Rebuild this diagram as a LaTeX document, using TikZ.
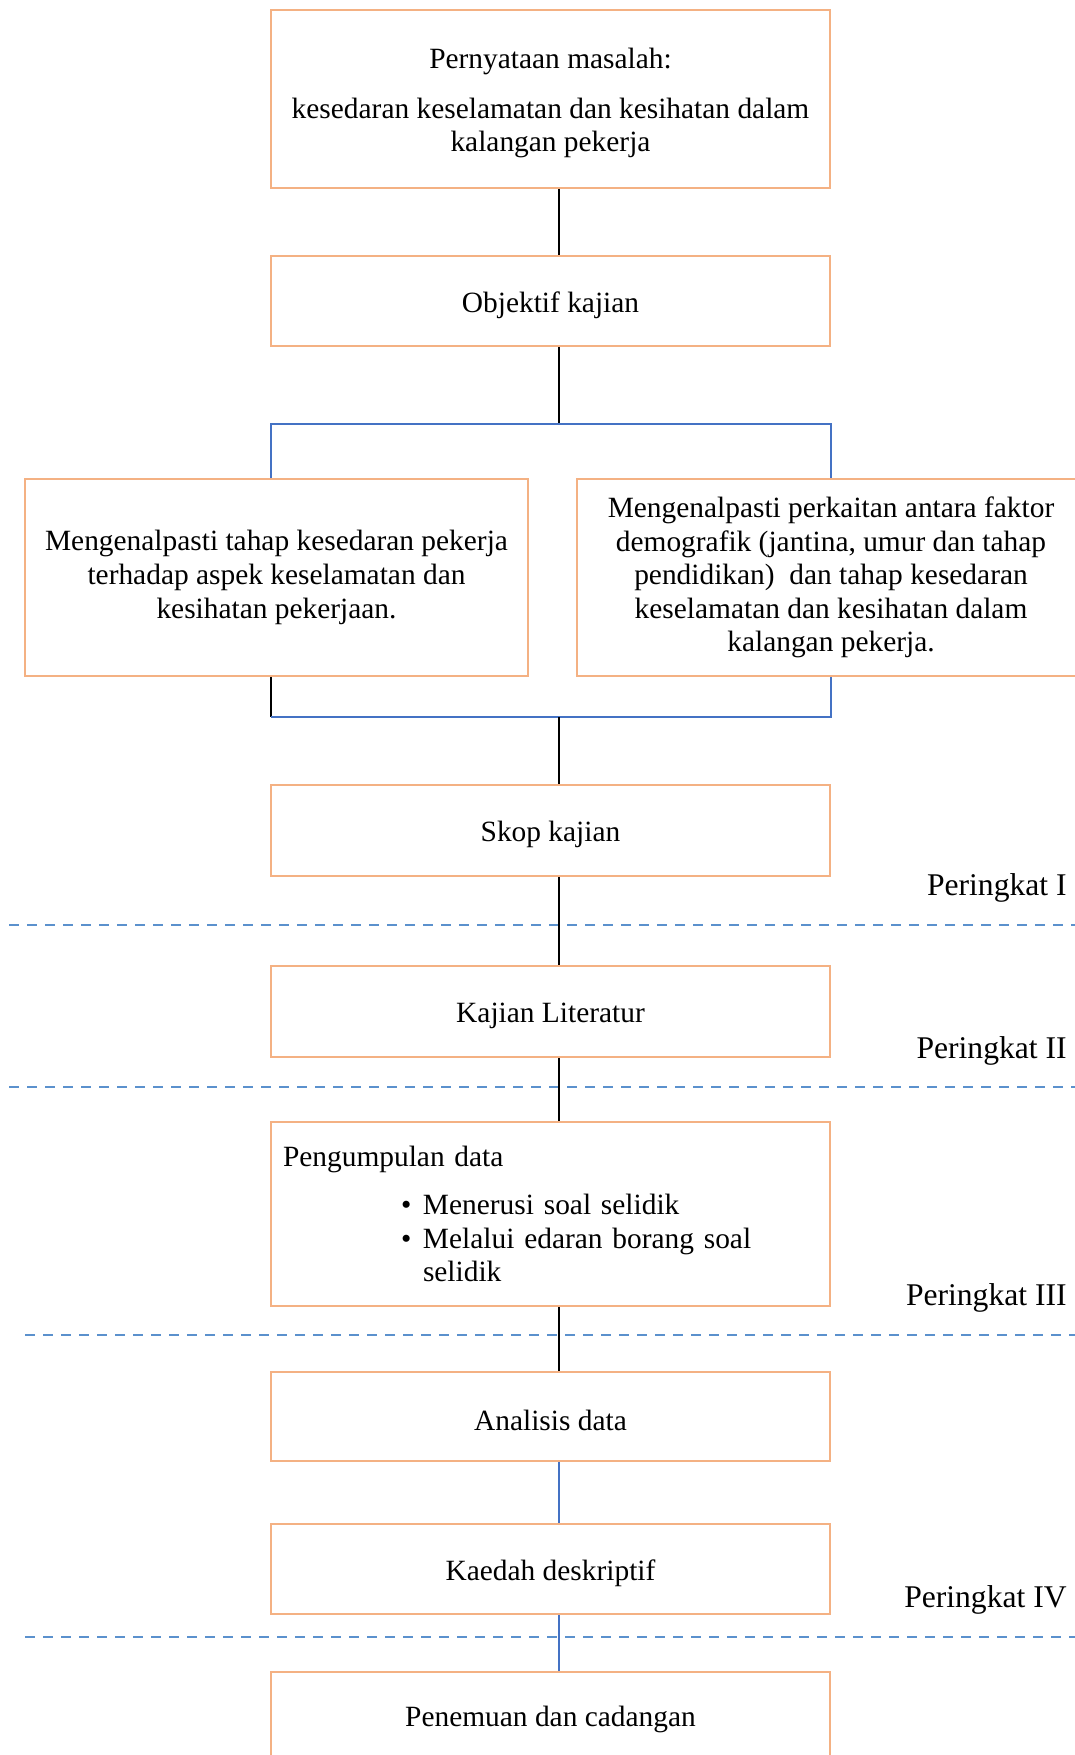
\documentclass[tikz,border=0pt]{standalone}
\usepackage{fontspec}
\setmainfont{Liberation Serif}
\usepackage{tikz}
\usetikzlibrary{positioning}
\usetikzlibrary{calc}
\definecolor{jingga}{RGB}{244,177,131}
\definecolor{biru}{RGB}{68,114,196}
\definecolor{birumuda}{RGB}{91,145,205}
\tikzstyle{kotak}=[draw=jingga,line width=0.75pt,rectangle,minimum width=279.5pt,align=center,inner sep=6pt]
\tikzstyle{teks}=[font=\fontsize{14.7}{16.8}\selectfont,inner sep=0pt]
\tikzstyle{sambung}=[line width=0.9pt]
\tikzstyle{garisputus}=[draw=birumuda,line width=1.1pt,dash pattern=on 5pt off 4pt]
\tikzstyle{aras}=[anchor=east,font=\fontsize{15.8}{18}\selectfont,inner sep=0pt]

\begin{document}
\begin{tikzpicture}[x=0.5pt,y=-0.5pt,font=\fontsize{14.7}{16.8}\selectfont]
\useasboundingbox (0,0) rectangle (1075,1755);

% kotak utama
\node [kotak,minimum height=89pt] (masalah) at (550.5,99) {};
\node [teks,align=center] at ([yshift=-2pt]masalah.center)
  {Pernyataan masalah:\\[8pt]kesedaran keselamatan dan kesihatan dalam\\kalangan pekerja};
\node [kotak,minimum height=45pt] (objektif) at (550.5,301) {};
\node [teks] at ([yshift=-2pt]objektif.center) {Objektif kajian};
\node [kotak,minimum width=251.5pt,minimum height=98.5pt] (kiri) at (276.5,577.5)
  {Mengenalpasti tahap kesedaran pekerja\\terhadap aspek keselamatan dan\\kesihatan pekerjaan.};
\node [kotak,minimum width=254pt,minimum height=98.5pt] (kanan) at (831,577.5)
  {Mengenalpasti perkaitan antara faktor\\demografik (jantina, umur dan tahap\\pendidikan)\ \ dan tahap kesedaran\\keselamatan dan kesihatan dalam\\kalangan pekerja.};
\node [kotak,minimum height=45.5pt] (skop) at (550.5,830.5) {};
\node [teks] at ([yshift=-2pt]skop.center) {Skop kajian};
\node [kotak,minimum height=45.5pt] (literatur) at (550.5,1011.5) {};
\node [teks] at ([yshift=-2pt]literatur.center) {Kajian Literatur};
\node [kotak,minimum height=92pt,align=left,text width=267.5pt] (data) at (550.5,1214)
  {Pengumpulan data\\[7.5pt]
   \hspace*{59pt}\makebox[11pt][l]{\textbullet}Menerusi soal selidik\\
   \hspace*{59pt}\makebox[11pt][l]{\textbullet}Melalui edaran borang soal\\
   \hspace*{70pt}selidik};
\node [kotak,minimum height=44.5pt] (analisis) at (550.5,1416.5) {};
\node [teks] at ([yshift=-2pt]analisis.center) {Analisis data};
\node [kotak,minimum height=45pt] (kaedah) at (550.5,1569) {};
\node [teks] at ([yshift=-2pt]kaedah.center) {Kaedah deskriptif};
\node [kotak,minimum height=47pt] (penemuan) at (550.5,1719) {Penemuan dan cadangan};

% peringkat
\node [aras] (p1) at (1067,888) {Peringkat I};
\node [aras] (p2) at (1067,1051) {Peringkat II};
\node [aras] (p3) at (1067,1298) {Peringkat III};
\node [aras] (p4) at (1067,1600) {Peringkat IV};

\coordinate (g1a) at (9,925);    \coordinate (g1b) at (1075,925);
\coordinate (g2a) at (9,1087);   \coordinate (g2b) at (1075,1087);
\coordinate (g3a) at (25,1335);  \coordinate (g3b) at (1075,1335);
\coordinate (g4a) at (25,1637);  \coordinate (g4b) at (1075,1637);
\draw [garisputus] (g1a) -- (g1b);
\draw [garisputus] (g2a) -- (g2b);
\draw [garisputus] (g3a) -- (g3b);
\draw [garisputus] (g4a) -- (g4b);

% sambungan
\coordinate (atas) at (559,424);
\coordinate (bawah) at (559,717);
\coordinate (ka) at (271,424);
\coordinate (kb) at (831,424);
\coordinate (kc) at (271,717);
\coordinate (kd) at (831,717);

\draw [sambung] (masalah.south -| atas) -- (objektif.north -| atas);
\draw [sambung] (objektif.south -| atas) -- (atas);
\draw [sambung,biru] (kiri.north -| ka) -- (ka) -- (kb) -- (kanan.north -| kb);
\draw [sambung] (kiri.south -| kc) -- (kc);
\draw [sambung,biru] (kc) -- (kd) -- (kanan.south -| kd);
\draw [sambung] (bawah) -- (skop.north -| bawah);
\draw [sambung] (skop.south -| atas) -- (literatur.north -| atas);
\draw [sambung] (literatur.south -| atas) -- (data.north -| atas);
\draw [sambung] (data.south -| atas) -- (analisis.north -| atas);
\draw [sambung,biru,line width=0.7pt] (analisis.south -| atas) -- (kaedah.north -| atas);
\draw [sambung,biru,line width=0.7pt] (kaedah.south -| atas) -- (penemuan.north -| atas);
\end{tikzpicture}
\end{document}
